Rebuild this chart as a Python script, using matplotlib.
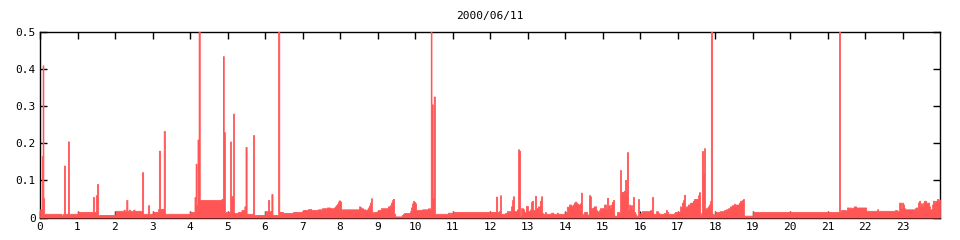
import matplotlib
matplotlib.use("Agg")
import matplotlib.pyplot as plt
import numpy as np

title = "2000/06/11"

# step start times (hours) and load values (held until next start)
hours = [
    0.00, 0.05, 0.07, 0.09, 0.11, 0.57, 0.61, 0.64, 0.665, 0.745, 0.77, 1.01,
    1.41, 1.44, 1.49, 1.52, 1.55, 2.01, 2.23, 2.26, 2.30, 2.33, 2.37, 2.40,
    2.49, 2.52, 2.72, 2.75, 2.88, 2.91, 3.01, 3.15, 3.17, 3.20, 3.30, 3.33,
    4.00, 4.12, 4.15, 4.17, 4.20, 4.23, 4.26, 4.84, 4.88, 4.90, 4.93, 4.96,
    5.07, 5.09, 5.12, 5.15, 5.17, 5.28, 5.37, 5.45, 5.48, 5.51, 5.68, 5.71,
    5.73, 5.76, 6.00, 6.08, 6.11, 6.17, 6.20, 6.35, 6.38, 6.40, 6.43, 6.45,
    6.48, 6.75, 6.99, 7.01, 7.15, 7.17, 7.20, 7.23, 7.41, 7.52, 7.65, 7.73,
    7.84, 7.87, 7.89, 7.92, 7.95, 7.97, 8.00, 8.03, 8.51, 8.53, 8.56, 8.61,
    8.67, 8.72, 8.75, 8.77, 8.80, 8.83, 8.85, 8.88, 8.91, 8.99, 9.01, 9.09,
    9.28, 9.33, 9.36, 9.39, 9.41, 9.44, 9.47, 9.65, 9.68, 9.71, 9.87, 9.89,
    9.92, 9.95, 9.97, 10.00, 10.03, 10.19, 10.35, 10.37, 10.40, 10.42, 10.44, 10.47,
    10.50, 10.53, 10.88, 10.93, 10.96, 10.99, 11.01, 12.16, 12.19, 12.21, 12.24, 12.27,
    12.29, 12.40, 12.45, 12.56, 12.59, 12.61, 12.64, 12.72, 12.75, 12.77, 12.80, 12.83,
    12.88, 12.91, 12.96, 13.01, 13.07, 13.09, 13.12, 13.15, 13.20, 13.23, 13.28, 13.33,
    13.36, 13.39, 13.41, 13.47, 13.49, 13.63, 13.68, 13.79, 13.81, 14.00, 14.05, 14.11,
    14.16, 14.21, 14.24, 14.27, 14.29, 14.32, 14.35, 14.40, 14.43, 14.45, 14.48, 14.51,
    14.59, 14.64, 14.67, 14.69, 14.75, 14.77, 14.83, 14.85, 14.88, 14.91, 14.93, 15.04,
    15.09, 15.12, 15.15, 15.17, 15.20, 15.23, 15.25, 15.28, 15.31, 15.39, 15.44, 15.47,
    15.49, 15.55, 15.57, 15.60, 15.63, 15.65, 15.68, 15.71, 15.73, 15.76, 15.79, 15.81,
    15.84, 15.87, 15.89, 15.95, 15.97, 16.00, 16.05, 16.27, 16.32, 16.35, 16.37, 16.43,
    16.48, 16.51, 16.64, 16.69, 16.72, 16.75, 16.91, 16.93, 17.07, 17.09, 17.12, 17.15,
    17.17, 17.20, 17.23, 17.28, 17.33, 17.36, 17.41, 17.44, 17.55, 17.57, 17.60, 17.63,
    17.65, 17.68, 17.71, 17.73, 17.76, 17.79, 17.81, 17.84, 17.87, 17.89, 17.92, 17.95,
    18.00, 18.13, 18.24, 18.29, 18.35, 18.40, 18.45, 18.51, 18.53, 18.56, 18.64, 18.67,
    18.72, 18.75, 18.77, 19.01, 21.31, 21.33, 21.36, 21.49, 21.52, 21.57, 21.60, 21.63,
    21.68, 21.71, 21.76, 22.03, 22.32, 22.35, 22.80, 22.85, 22.91, 22.96, 22.99, 23.01,
    23.04, 23.07, 23.33, 23.36, 23.39, 23.41, 23.44, 23.47, 23.49, 23.52, 23.55, 23.57,
    23.63, 23.71, 23.73, 23.79, 23.81, 23.84, 23.87, 23.92, 23.95, 23.97,
]
load = [
    0.022, 0.165, 0.41, 0.052, 0.010, 0.006, 0.010, 0.14, 0.010, 0.205, 0.010, 0.015,
    0.055, 0.015, 0.06, 0.09, 0.007, 0.018, 0.021, 0.018, 0.047, 0.018, 0.021, 0.018,
    0.021, 0.018, 0.122, 0.010, 0.033, 0.010, 0.015, 0.023, 0.18, 0.023, 0.233, 0.010,
    0.015, 0.055, 0.145, 0.035, 0.21, 0.6, 0.047, 0.050, 0.435, 0.23, 0.012, 0.015,
    0.205, 0.055, 0.058, 0.28, 0.012, 0.015, 0.020, 0.030, 0.19, 0.010, 0.222, 0.007,
    0.003, 0.007, 0.017, 0.047, 0.017, 0.063, 0.007, 0.6, 0.010, 0.015, 0.010, 0.015,
    0.012, 0.015, 0.017, 0.020, 0.023, 0.020, 0.023, 0.020, 0.022, 0.025, 0.027, 0.025,
    0.027, 0.030, 0.033, 0.037, 0.043, 0.046, 0.043, 0.022, 0.030, 0.028, 0.025, 0.022,
    0.020, 0.022, 0.027, 0.032, 0.040, 0.052, 0.015, 0.012, 0.015, 0.017, 0.020, 0.025,
    0.030, 0.033, 0.040, 0.047, 0.050, 0.010, 0.003, 0.007, 0.010, 0.012, 0.017, 0.027,
    0.038, 0.045, 0.042, 0.038, 0.020, 0.022, 0.025, 0.022, 0.025, 0.6, 0.305, 0.053,
    0.326, 0.010, 0.013, 0.010, 0.013, 0.010, 0.015, 0.056, 0.012, 0.015, 0.018, 0.060,
    0.010, 0.012, 0.017, 0.030, 0.047, 0.057, 0.017, 0.022, 0.184, 0.180, 0.005, 0.025,
    0.022, 0.015, 0.031, 0.017, 0.022, 0.042, 0.045, 0.020, 0.058, 0.025, 0.030, 0.045,
    0.057, 0.012, 0.010, 0.015, 0.010, 0.013, 0.010, 0.013, 0.010, 0.015, 0.029, 0.035,
    0.032, 0.035, 0.040, 0.043, 0.040, 0.037, 0.035, 0.038, 0.067, 0.007, 0.010, 0.015,
    0.008, 0.060, 0.057, 0.025, 0.027, 0.030, 0.020, 0.017, 0.015, 0.020, 0.025, 0.035,
    0.022, 0.053, 0.030, 0.033, 0.025, 0.035, 0.042, 0.047, 0.005, 0.015, 0.012, 0.128,
    0.069, 0.067, 0.072, 0.101, 0.072, 0.176, 0.020, 0.035, 0.030, 0.033, 0.022, 0.055,
    0.015, 0.010, 0.005, 0.050, 0.005, 0.012, 0.017, 0.020, 0.055, 0.007, 0.010, 0.017,
    0.012, 0.010, 0.012, 0.020, 0.015, 0.010, 0.012, 0.015, 0.030, 0.025, 0.040, 0.047,
    0.061, 0.025, 0.030, 0.035, 0.039, 0.040, 0.045, 0.050, 0.060, 0.068, 0.005, 0.012,
    0.179, 0.117, 0.187, 0.025, 0.022, 0.027, 0.030, 0.035, 0.045, 0.6, 0.010, 0.008,
    0.015, 0.017, 0.020, 0.022, 0.025, 0.030, 0.033, 0.037, 0.033, 0.035, 0.040, 0.045,
    0.047, 0.050, 0.005, 0.015, 0.6, 0.015, 0.020, 0.017, 0.027, 0.022, 0.027, 0.025,
    0.027, 0.030, 0.027, 0.018, 0.022, 0.018, 0.020, 0.018, 0.040, 0.025, 0.040, 0.035,
    0.025, 0.022, 0.025, 0.027, 0.020, 0.040, 0.045, 0.030, 0.038, 0.030, 0.040, 0.045,
    0.040, 0.030, 0.022, 0.035, 0.045, 0.040, 0.045, 0.050, 0.045, 0.048,
]
x_ticks = list(range(0, 24))
y_ticks = [0, 0.1, 0.2, 0.3, 0.4, 0.5]
y_labels = ["0", "0.1", "0.2", "0.3", "0.4", "0.5"]

t = np.array(hours + [24.0])
v = np.array(load + [load[-1]])

fig = plt.figure(figsize=(9.6, 2.4), dpi=100)
ax = fig.add_axes([40 / 960, 1 - 217.5 / 240, 900 / 960, 185.5 / 240])
ax.fill_between(t, 0, v, step="post", facecolor="#ff5555", edgecolor="#ff5555",
                linewidth=0.6, antialiased=False, zorder=3)
ax.set_xlim(0, 24)
ax.set_ylim(0, 0.5)
ax.set_xticks(x_ticks)
ax.set_xticklabels([str(h) for h in x_ticks])
ax.set_yticks(y_ticks)
ax.set_yticklabels(y_labels)
ax.tick_params(direction="in", length=5, width=1, top=True, right=True,
               labelsize=8, pad=3, colors="black")
for lbl in ax.get_xticklabels() + ax.get_yticklabels():
    lbl.set_fontfamily("DejaVu Sans Mono")
for s in ax.spines.values():
    s.set_linewidth(1)
    s.set_color("black")
ax.set_title(title, fontsize=8, family="DejaVu Sans Mono", pad=9)
fig.savefig("out.png", dpi=100)
